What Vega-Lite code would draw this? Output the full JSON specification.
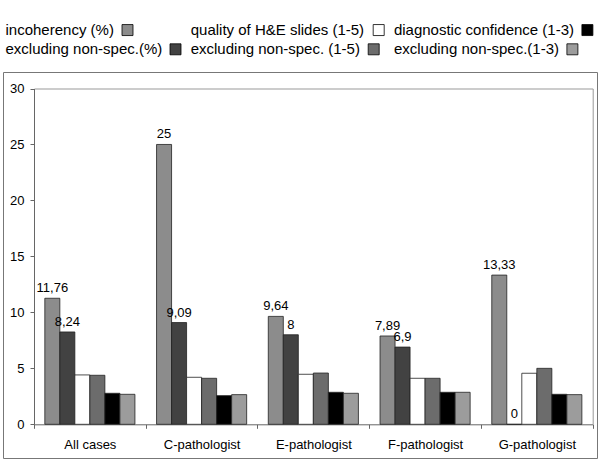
{
  "$schema": "https://vega.github.io/schema/vega-lite/v6.json",
  "width": 594,
  "height": 386,
  "autosize": {"type": "none"},
  "padding": {"left": 3, "top": 72, "right": 3, "bottom": 3},
  "background": "white",
  "config": {
    "font": "Liberation Sans",
    "view": {"stroke": "#777777", "strokeWidth": 1}
  },
  "data": {
    "values": [
      {"group": "All cases", "series": "incoherency (%)", "value": 11.26, "label": "11,76"},
      {"group": "All cases", "series": "excluding non-spec.(%)", "value": 8.25, "label": "8,24"},
      {"group": "All cases", "series": "quality of H&E slides (1-5)", "value": 4.41},
      {"group": "All cases", "series": "excluding non-spec. (1-5)", "value": 4.38},
      {"group": "All cases", "series": "diagnostic confidence (1-3)", "value": 2.77},
      {"group": "All cases", "series": "excluding non-spec.(1-3)", "value": 2.68},
      {"group": "C-pathologist", "series": "incoherency (%)", "value": 25, "label": "25"},
      {"group": "C-pathologist", "series": "excluding non-spec.(%)", "value": 9.09, "label": "9,09"},
      {"group": "C-pathologist", "series": "quality of H&E slides (1-5)", "value": 4.2},
      {"group": "C-pathologist", "series": "excluding non-spec. (1-5)", "value": 4.11},
      {"group": "C-pathologist", "series": "diagnostic confidence (1-3)", "value": 2.56},
      {"group": "C-pathologist", "series": "excluding non-spec.(1-3)", "value": 2.65},
      {"group": "E-pathologist", "series": "incoherency (%)", "value": 9.64, "label": "9,64"},
      {"group": "E-pathologist", "series": "excluding non-spec.(%)", "value": 8, "label": "8"},
      {"group": "E-pathologist", "series": "quality of H&E slides (1-5)", "value": 4.47},
      {"group": "E-pathologist", "series": "excluding non-spec. (1-5)", "value": 4.58},
      {"group": "E-pathologist", "series": "diagnostic confidence (1-3)", "value": 2.86},
      {"group": "E-pathologist", "series": "excluding non-spec.(1-3)", "value": 2.77},
      {"group": "F-pathologist", "series": "incoherency (%)", "value": 7.89, "label": "7,89"},
      {"group": "F-pathologist", "series": "excluding non-spec.(%)", "value": 6.9, "label": "6,9"},
      {"group": "F-pathologist", "series": "quality of H&E slides (1-5)", "value": 4.11},
      {"group": "F-pathologist", "series": "excluding non-spec. (1-5)", "value": 4.11},
      {"group": "F-pathologist", "series": "diagnostic confidence (1-3)", "value": 2.86},
      {"group": "F-pathologist", "series": "excluding non-spec.(1-3)", "value": 2.86},
      {"group": "G-pathologist", "series": "incoherency (%)", "value": 13.33, "label": "13,33"},
      {"group": "G-pathologist", "series": "excluding non-spec.(%)", "value": 0, "label": "0"},
      {"group": "G-pathologist", "series": "quality of H&E slides (1-5)", "value": 4.56},
      {"group": "G-pathologist", "series": "excluding non-spec. (1-5)", "value": 5.0},
      {"group": "G-pathologist", "series": "diagnostic confidence (1-3)", "value": 2.68},
      {"group": "G-pathologist", "series": "excluding non-spec.(1-3)", "value": 2.65}
    ]
  },
  "resolve": {"axis": {"x": "independent", "y": "independent"}},
  "layer": [
    {
      "mark": {"type": "bar", "stroke": "#222222", "strokeWidth": 0.8},
      "encoding": {
        "x": {
          "field": "group", "type": "nominal", "sort": null,
          "scale": {"range": [31, 589.7], "paddingInner": 0, "paddingOuter": 0},
          "axis": {
            "orient": "bottom", "offset": -33.7, "title": null, "labelAngle": 0,
            "tickBand": "extent", "tickSize": 4, "tickColor": "#666666",
            "domainColor": "#666666", "labelFontSize": 13, "labelColor": "#000000",
            "labelPadding": 10, "labelFont": "Liberation Sans"
          }
        },
        "xOffset": {
          "field": "series", "type": "nominal",
          "scale": {
            "domain": ["incoherency (%)", "excluding non-spec.(%)", "quality of H&E slides (1-5)", "excluding non-spec. (1-5)", "diagnostic confidence (1-3)", "excluding non-spec.(1-3)"],
            "paddingInner": 0, "paddingOuter": 0.72
          }
        },
        "y": {
          "field": "value", "type": "quantitative",
          "scale": {"domain": [0, 30], "range": [352.3, 16.5], "nice": false},
          "axis": {
            "orient": "left", "offset": -31, "title": null, "grid": false,
            "values": [0, 5, 10, 15, 20, 25, 30], "tickSize": 4, "tickColor": "#666666",
            "domainColor": "#666666", "labelFontSize": 13, "labelColor": "#000000",
            "labelPadding": 6, "labelFont": "Liberation Sans"
          }
        },
        "color": {
          "field": "series", "type": "nominal",
          "scale": {
            "domain": ["incoherency (%)", "quality of H&E slides (1-5)", "diagnostic confidence (1-3)", "excluding non-spec.(%)", "excluding non-spec. (1-5)", "excluding non-spec.(1-3)"],
            "range": ["#8c8c8c", "#ffffff", "#000000", "#424242", "#6c6c6c", "#9c9c9c"]
          },
          "legend": {
            "orient": "none", "legendX": 3, "legendY": -49.7, "title": null,
            "columns": 3, "direction": "horizontal",
            "symbolType": "square", "symbolSize": 121, "symbolStrokeColor": "#000000",
            "symbolStrokeWidth": 0.8, "symbolOpacity": 1,
            "labelFontSize": 15, "labelColor": "#000000", "labelFont": "Liberation Sans",
            "labelAlign": "left", "labelOffset": -15.5, "labelLimit": 0,
            "rowPadding": 3.5, "columnPadding": 7.2, "padding": 0,
            "encode": {
              "symbols": {
                "update": {
                  "x": {"signal": "datum.label === 'incoherency (%)' ? 121.5 : datum.label === 'quality of H&E slides (1-5)' ? 187.5 : datum.label === 'diagnostic confidence (1-3)' ? 193 : datum.label === 'excluding non-spec.(%)' ? 169.5 : datum.label === 'excluding non-spec. (1-5)' ? 182.5 : 178"}
                }
              }
            }
          }
        }
      }
    },
    {
      "transform": [{"filter": "isValid(datum.label)"}],
      "mark": {"type": "text", "fontSize": 13, "color": "#000000", "dy": -6, "baseline": "alphabetic", "font": "Liberation Sans"},
      "encoding": {
        "x": {
          "field": "group", "type": "nominal", "sort": null,
          "axis": {"orient": "top", "offset": -16.5, "title": null, "labels": false, "ticks": false, "domainColor": "#999999"}
        },
        "xOffset": {"field": "series", "type": "nominal"},
        "y": {
          "field": "value", "type": "quantitative",
          "axis": {"orient": "right", "offset": -4.3, "title": null, "labels": false, "ticks": false, "grid": false, "domainColor": "#999999"}
        },
        "text": {"field": "label", "type": "nominal"}
      }
    }
  ]
}
